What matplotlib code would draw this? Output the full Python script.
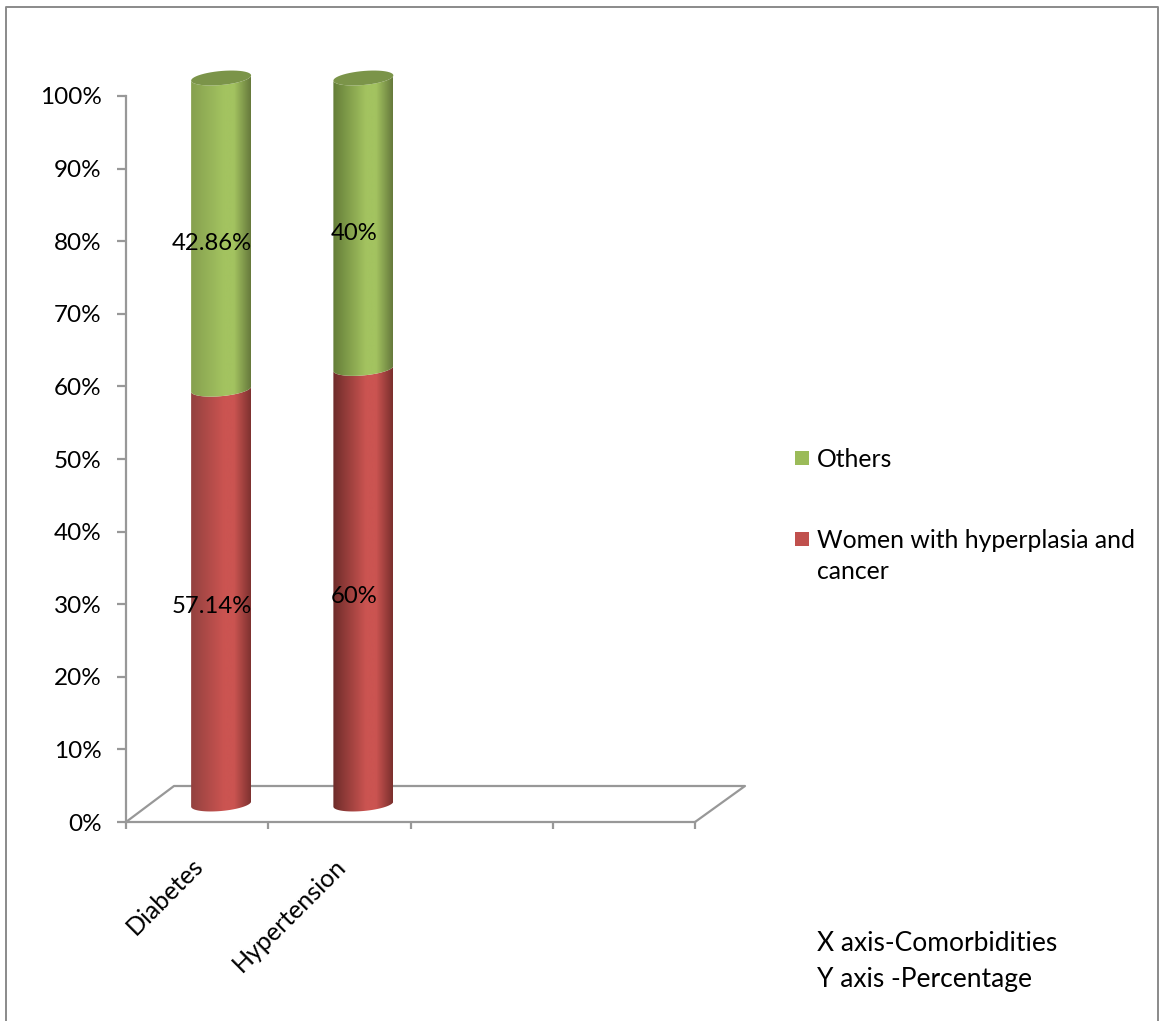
import numpy as np
import matplotlib
matplotlib.use('Agg')
import matplotlib.pyplot as plt
import matplotlib.patches as mpatches
import matplotlib.transforms as mtransforms
from matplotlib.colors import LinearSegmentedColormap
from matplotlib.lines import Line2D
from matplotlib.path import Path
from matplotlib.ticker import PercentFormatter

categories = ['Diabetes', 'Hypertension']
women = [57.14, 60]
others = [42.86, 40]
women_labels = ['57.14%', '60%']
others_labels = ['42.86%', '40%']
yticks = list(range(0, 101, 10))

W, H = 1161, 1021
GREY = '#989898'
plt.rcParams['font.family'] = ['Lato', 'DejaVu Sans']

fig = plt.figure(figsize=(W / 100, H / 100), dpi=100)
ax = fig.add_axes([126 / W, 1 - 822 / H, (695 - 126) / W, (822 - 96) / H])
ax.set_xlim(0, 4)
ax.set_ylim(0, 100)

# px to data sizes
px_x = 4 / (695 - 126)
px_y = 100 / (822 - 96)
bar_w = 60 * px_x
off = mtransforms.ScaledTranslation(24 / 100, 18 / 100, fig.dpi_scale_trans)  # fake 3d depth
bar_trans = ax.transData + off


def arc(xc, v, start, end):
    t = np.linspace(start, end, 50)
    x = xc + bar_w / 2 * np.cos(t)
    y = v + (7 * np.sin(t) + 2.6 * np.cos(t)) * px_y
    return np.column_stack([x, y])


def shade(dark_l, mid, dark_r):
    return LinearSegmentedColormap.from_list('c', [(0, dark_l), (0.55, mid), (0.72, mid), (1, dark_r)])


def draw_segment(xc, v0, v1, cmap):
    pts = np.vstack([arc(xc, v0, np.pi, 2 * np.pi), arc(xc, v1, 2 * np.pi, np.pi)])
    patch = mpatches.PathPatch(Path(pts), transform=bar_trans, fc='none', ec='none', zorder=3)
    ax.add_patch(patch)
    grad = np.linspace(0, 1, 256).reshape(1, -1)
    im = ax.imshow(grad, cmap=cmap, aspect='auto', zorder=3, interpolation='bilinear',
                   extent=[xc - bar_w / 2, xc + bar_w / 2, v0 - 10 * px_y, v1 + 10 * px_y])
    im.set_transform(bar_trans)
    im.set_clip_path(patch)
    im.set_clip_box(fig.bbox)


red_maps = [shade('#93413f', '#cb5451', '#7e3230'), shade('#6e2c2a', '#cb5451', '#7a2f2d')]
green_maps = [shade('#86a04f', '#a3c360', '#66793c'), shade('#647d38', '#a3c360', '#66793c')]

for i, cat in enumerate(categories):
    xc = i + 0.5
    draw_segment(xc, 0, women[i], red_maps[i])
    draw_segment(xc, women[i], women[i] + others[i], green_maps[i])
    top = arc(xc, women[i] + others[i], 0, 2 * np.pi)
    ax.add_patch(mpatches.Polygon(top, transform=bar_trans, fc='#7b9449', ec='none', zorder=4, clip_on=False))
    # labels sit a bit left of the cylinder centre
    ax.annotate(women_labels[i], (xc, women[i] / 2), xytext=(14.5 * 0.72, 8 * 0.72), textcoords='offset points',
                ha='center', va='center', fontsize=17.2, color='black', zorder=5)
    ax.annotate(others_labels[i], (xc, women[i] + others[i] / 2), xytext=(14.5 * 0.72, 8 * 0.72), textcoords='offset points',
                ha='center', va='center', fontsize=17.2, color='black', zorder=5)

# floor of the 3d box
floor_x = [0, 48 * px_x, 4 + 50 * px_x, 4]
floor_y = [0, 36 * px_y, 36 * px_y, 0]
ax.add_line(Line2D(floor_x, floor_y, color=GREY, lw=1.6, clip_on=False, zorder=1))

for s in ['top', 'right']:
    ax.spines[s].set_visible(False)
for s in ['left', 'bottom']:
    ax.spines[s].set_color(GREY)
    ax.spines[s].set_linewidth(1.6)

ax.set_yticks(yticks)
ax.yaxis.set_major_formatter(PercentFormatter())
ax.tick_params(axis='y', length=6.5, width=1.6, color=GREY, labelsize=17.5, pad=11)
ax.set_xticks(range(5))
ax.set_xticklabels([])
ax.tick_params(axis='x', which='major', length=5, width=1.6, color=GREY)
ax.set_xticks(np.arange(len(categories)) + 0.5, minor=True)
ax.set_xticklabels(categories, minor=True, rotation=45, ha='right', va='top', rotation_mode='anchor', fontsize=18)
ax.tick_params(axis='x', which='minor', length=0, pad=23)
lab_shift = mtransforms.ScaledTranslation(-6 / 100, 0, fig.dpi_scale_trans)
for lab in ax.get_xticklabels(minor=True):
    lab.set_transform(lab.get_transform() + lab_shift)

# legend by hand, the red square lines up with the first row of its label
legend_y = [458, 539]
legend_colors = ['#9bbb59', '#c0504d']
legend_labels = ['Others', 'Women with hyperplasia and\ncancer']
for y, c, lab in zip(legend_y, legend_colors, legend_labels):
    fig.add_artist(mpatches.Rectangle((795 / W, 1 - (y + 7) / H), 14 / W, 14 / H, fc=c, ec='none',
                                      transform=fig.transFigure))
    for j, row in enumerate(lab.split('\n')):
        fig.text(817 / W, 1 - (y + 1.5 + 31 * j) / H, row, fontsize=17.8, va='center', ha='left')

fig.text(817 / W, 1 - 943.5 / H, 'X axis-Comorbidities', fontsize=19, va='center', ha='left')
fig.text(817 / W, 1 - 979.5 / H, 'Y axis -Percentage', fontsize=19, va='center', ha='left')

# outer frame of the picture, no bottom edge
fig.add_artist(Line2D([6 / W, 6 / W, 1158 / W, 1158 / W], [0, 1 - 7 / H, 1 - 7 / H, 0],
                      color='#8a8a8a', lw=1.4, transform=fig.transFigure))

fig.savefig('out.png', dpi=100)
